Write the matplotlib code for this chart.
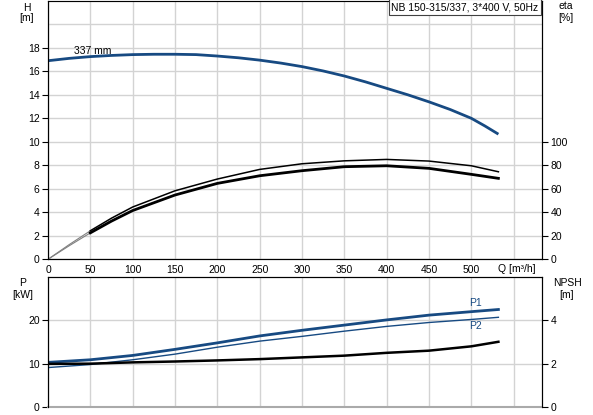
import numpy as np
import matplotlib as mpl
mpl.use('Agg')
import matplotlib.pyplot as plt

plt.rcParams['font.family'] = ['Liberation Sans', 'DejaVu Sans']
plt.rcParams['font.size'] = 7.5

# head curve (337 mm impeller)
q_h = [0, 25, 50, 75, 100, 125, 150, 175, 200, 225, 250, 275, 300, 325, 350,
       375, 400, 425, 450, 475, 500, 516, 532]
h = [16.9, 17.1, 17.25, 17.35, 17.42, 17.45, 17.45, 17.42, 17.3, 17.15, 16.95,
     16.7, 16.4, 16.03, 15.6, 15.1, 14.55, 14.0, 13.4, 12.75, 12.0, 11.35, 10.65]

# efficiency curves
q_eta = [0, 25, 50, 75, 100, 150, 200, 250, 300, 350, 400, 450, 500, 532]
eta_upper = [0, 12.5, 24.3, 35, 44.5, 58.3, 68.3, 76.5, 81.3, 83.8, 85.0, 83.6, 79.6, 74.5]
eta_lower = [0, 11.5, 22.5, 32.5, 41.5, 54.7, 64.6, 71.1, 75.4, 78.8, 79.6, 77.4, 72.3, 68.9]

# power and NPSH
q_p = [0, 50, 100, 150, 200, 250, 300, 350, 400, 450, 500, 532]
p1 = [10.3, 10.9, 11.9, 13.3, 14.8, 16.4, 17.7, 18.9, 20.1, 21.2, 22.0, 22.5]
p2 = [9.1, 9.8, 10.9, 12.2, 13.8, 15.2, 16.3, 17.5, 18.6, 19.5, 20.2, 20.7]
npsh = [1.99, 2.0, 2.06, 2.1, 2.15, 2.21, 2.29, 2.37, 2.5, 2.6, 2.8, 3.01]

xticks = [0, 50, 100, 150, 200, 250, 300, 350, 400, 450, 500, 550]
blue = '#174a82'
grid_c = '#d3d3d3'

fig = plt.figure(figsize=(5.93, 4.15), dpi=100)

# top panel: H and eta
ax = fig.add_axes([48/593, 1-259.3/415, 494/593, 258.5/415])
ax.set_xlim(0, 583.5)
ax.set_ylim(0, 22)
ax.set_xticks(xticks)
ax.set_xticklabels([str(t) for t in xticks[:-1]] + [''])
ax.set_yticks(range(0, 19, 2))
ax.axhline(20, color=grid_c, lw=1, zorder=0)
ax.grid(True, color=grid_c, lw=1)
ax.set_axisbelow(True)
ax.tick_params(axis='y', length=4, width=0.8, pad=2)
ax.tick_params(axis='x', length=0, pad=4)
ax.spines['top'].set_color('#909090')
ax.plot(q_h, h, color=blue, lw=2, solid_capstyle='butt')
ax.text(30.5, 17.75, '337 mm', fontsize=7.5, va='center')

ax2 = ax.twinx()
ax2.set_ylim(0, 220)
ax2.set_yticks(range(0, 101, 20))
ax2.tick_params(length=4, width=0.8, pad=2)
ax2.plot(q_eta[:3], eta_upper[:3], color='#808080', lw=0.8)
ax2.plot(q_eta[:3], eta_lower[:3], color='#808080', lw=0.8)
ax2.plot(q_eta[2:], eta_upper[2:], color='black', lw=1.1)
ax2.plot(q_eta[2:], eta_lower[2:], color='black', lw=2)

fig.text(27/593, 1-8/415, 'H', ha='center', va='center')
fig.text(27/593, 1-18/415, '[m]', ha='center', va='center')
fig.text(566/593, 1-6/415, 'eta', ha='center', va='center')
fig.text(566/593, 1-18/415, '[%]', ha='center', va='center')
fig.text(517/593, 1-269/415, 'Q [m\u00b3/h]', ha='center', va='center')
fig.text(465/593, 1-7/415, 'NB 150-315/337, 3*400 V, 50Hz', ha='center', va='center',
         bbox=dict(boxstyle='square,pad=0.25', fc='white', ec='#404040', lw=0.8))

# bottom panel: P and NPSH
ax3 = fig.add_axes([48/593, 1-407/415, 494/593, 130/415])
ax3.set_xlim(0, 583.5)
ax3.set_ylim(0, 30)
ax3.set_xticks(xticks)
ax3.set_xticklabels([])
ax3.set_yticks([0, 10, 20])
ax3.grid(True, color=grid_c, lw=1)
ax3.set_axisbelow(True)
ax3.tick_params(axis='y', length=4, width=0.8, pad=2)
ax3.tick_params(axis='x', length=0)
ax3.spines['bottom'].set_color('#aaaaaa')
ax3.spines['bottom'].set_linewidth(1.5)
ax3.plot(q_p, p1, color=blue, lw=2)
ax3.plot(q_p, p2, color=blue, lw=1)
ax3.text(497, 22.9, 'P1', color=blue, fontsize=7.5, va='bottom')
ax3.text(497, 19.9, 'P2', color=blue, fontsize=7.5, va='top')

ax4 = ax3.twinx()
ax4.set_ylim(0, 6)
ax4.set_yticks([0, 2, 4])
ax4.tick_params(length=4, width=0.8, pad=2)
ax4.spines['bottom'].set_visible(False)
ax4.plot(q_p, npsh, color='black', lw=1.8)

fig.text(23/593, 1-283/415, 'P', ha='center', va='center')
fig.text(23/593, 1-295/415, '[kW]', ha='center', va='center')
fig.text(567/593, 1-283/415, 'NPSH', ha='center', va='center')
fig.text(567/593, 1-295/415, '[m]', ha='center', va='center')

fig.savefig('out.png', dpi=100)
